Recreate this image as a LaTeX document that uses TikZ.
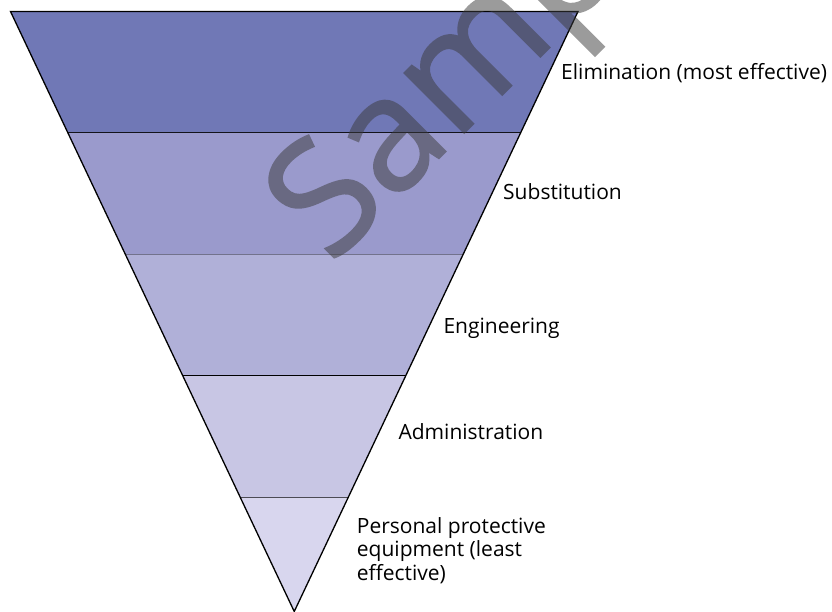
\documentclass[tikz,border=0pt]{standalone}
\usepackage{fontspec}
\setmainfont{Open Sans}
\newfontfamily\wmfont[FakeBold=1.2]{Open Sans}
\usepackage{xcolor}
\usepackage{tikz}
\usetikzlibrary{calc}

\definecolor{bandA}{RGB}{112,120,182}
\definecolor{bandB}{RGB}{154,154,204}
\definecolor{bandC}{RGB}{176,176,216}
\definecolor{bandD}{RGB}{200,198,228}
\definecolor{bandE}{RGB}{216,214,238}
\definecolor{wmark}{RGB}{59,59,59}

\begin{document}
\begin{tikzpicture}[x=1pt, y=-1pt, every node/.style={font=\fontsize{21}{23.5}\selectfont, inner sep=0pt}]
       \useasboundingbox (0,0) rectangle (832,612);
       % corners of the triangle
       \coordinate (tl) at (10.5, 11.5);
       \coordinate (tr) at (578, 11.5);
       \coordinate (apex) at (294.25, 611.5);
       \def\dt{0.2025}

       % bands, top to bottom
       \foreach \i/\c in {0/bandA, 1/bandB, 2/bandC, 3/bandD}{
       \pgfmathsetmacro{\ta}{\i * \dt}
       \pgfmathsetmacro{\tb}{(\i + 1) * \dt}
       \fill [\c] ($(tl)!\ta!(apex)$) -- ($(tr)!\ta!(apex)$) -- ($(tr)!\tb!(apex)$) -- ($(tl)!\tb!(apex)$) -- cycle;
       \draw [line width=1.3pt] ($(tl)!\tb!(apex)$) -- ($(tr)!\tb!(apex)$);
       }
       \fill [bandE] ($(tl)!4*\dt!(apex)$) -- ($(tr)!4*\dt!(apex)$) -- (apex) -- cycle;

       % outline
       \draw [line width=1.3pt, line join=miter] (tl) -- (tr) -- (apex) -- cycle;

       % labels
       \node [anchor=base west] (elim) at (561, 79.3) {Elimination (most effective)};
       \node [anchor=base west] (subst) at (503, 200) {Substitution};
       \node [anchor=base west] (engin) at (443.3, 333) {Engineering};
       \node [anchor=base west] (admin) at (398.3, 439) {Administration};
       \node [anchor=base west, align=left] (ppe) at (356.7, 580) {Personal protective\\equipment (least\\effective)};

       % watermark
       \begin{scope}[transparency group, opacity=.51]
       \node [anchor=base west, rotate=45, text=wmark, font=\wmfont\fontsize{158}{158}\selectfont] (wm) at (331, 266) {Sample};
       \end{scope}
\end{tikzpicture}
\end{document}
